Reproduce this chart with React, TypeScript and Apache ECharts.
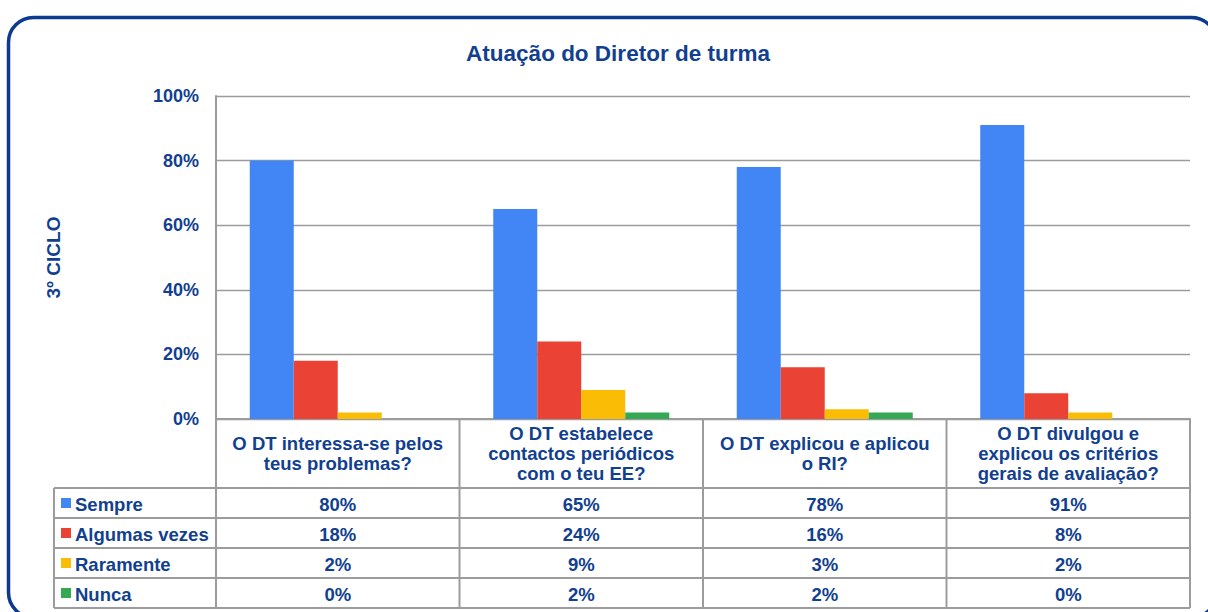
import React, { useEffect, useRef } from "react";
import * as echarts from "echarts";

const categories = [
  "O DT interessa-se pelos\nteus problemas?",
  "O DT estabelece\ncontactos periódicos\ncom o teu EE?",
  "O DT explicou e aplicou\no RI?",
  "O DT divulgou e\nexplicou os critérios\ngerais de avaliação?",
];
const seriesNames = ["Sempre", "Algumas vezes", "Raramente", "Nunca"];
const sempre = [80, 65, 78, 91];
const algumas = [18, 24, 16, 8];
const raramente = [2, 9, 3, 2];
const nunca = [0, 2, 2, 0];
const colors = ["#4285F4", "#EA4335", "#FBBC05", "#34A853"];
const yTicks = [0, 20, 40, 60, 80, 100];

const TEXT = "#123F8F";
const FONT = "'Liberation Sans', Arial, sans-serif";
const GRID_LINE = "#9c9c9c";

export default function App() {
  const ref = useRef<HTMLDivElement>(null);
  useEffect(() => {
    if (!ref.current) return;
    const chart = echarts.init(ref.current, null, { renderer: "svg" });
    const W = 1208;
    const H = 612;
    const gl = 216;
    const gr = 1190;
    const gt = 96;
    const gb = 419;
    const colW = (gr - gl) / categories.length;
    const rowTops = [488, 518, 548, 578, 608];
    const tableLeft = 54;
    const allSeries = [sempre, algumas, raramente, nunca];

    const graphics: any[] = [];
    graphics.push({
      type: "rect",
      shape: { x: 8.5, y: 17.5, width: 1208, height: 600, r: 25 },
      style: { fill: "none", stroke: "#0C3A8E", lineWidth: 3.5 },
      silent: true,
      z: 100,
    });
    for (let i = 0; i <= categories.length; i++) {
      const x = gl + i * colW;
      graphics.push({
        type: "line",
        shape: { x1: x, y1: gb, x2: x, y2: rowTops[rowTops.length - 1] },
        style: { stroke: GRID_LINE, lineWidth: 2 },
      });
    }
    graphics.push({
      type: "line",
      shape: { x1: tableLeft, y1: rowTops[0], x2: tableLeft, y2: rowTops[rowTops.length - 1] },
      style: { stroke: GRID_LINE, lineWidth: 2 },
    });
    rowTops.forEach((y) => {
      graphics.push({
        type: "line",
        shape: { x1: tableLeft, y1: y, x2: gr, y2: y },
        style: { stroke: GRID_LINE, lineWidth: 2 },
      });
    });
    seriesNames.forEach((name, r) => {
      const cy = (rowTops[r] + rowTops[r + 1]) / 2;
      graphics.push({
        type: "rect",
        shape: { x: 61, y: cy - 5, width: 10, height: 10 },
        style: { fill: colors[r] },
      });
      graphics.push({
        type: "text",
        x: 75,
        y: cy + 1,
        style: {
          text: name,
          fill: TEXT,
          font: `bold 18.5px ${FONT}`,
          textAlign: "left",
          textVerticalAlign: "middle",
        },
      });
      allSeries[r].forEach((v, c) => {
        graphics.push({
          type: "text",
          x: gl + (c + 0.5) * colW,
          y: cy + 1,
          style: {
            text: `${v}%`,
            fill: TEXT,
            font: `bold 18.5px ${FONT}`,
            textAlign: "center",
            textVerticalAlign: "middle",
          },
        });
      });
    });

    chart.setOption({
      animation: false,
      title: {
        text: "Atuação do Diretor de turma",
        left: 613,
        textAlign: "center",
        top: 37,
        textStyle: { color: TEXT, fontSize: 22.5, fontWeight: "bold", fontFamily: FONT },
      },
      grid: { left: gl, right: W - gr, top: gt, bottom: H - gb },
      xAxis: {
        type: "category",
        data: categories,
        axisLine: { show: true, lineStyle: { color: GRID_LINE, width: 2 } },
        axisTick: { show: false },
        axisLabel: {
          interval: 0,
          margin: 34,
          verticalAlign: "middle",
          color: TEXT,
          fontSize: 18.5,
          fontWeight: "bold",
          fontFamily: FONT,
          lineHeight: 20,
          align: "center",
        },
      },
      yAxis: {
        type: "value",
        min: yTicks[0],
        max: yTicks[yTicks.length - 1],
        interval: 20,
        name: "3º CICLO",
        nameLocation: "middle",
        nameGap: 153,
        nameRotate: 90,
        nameTextStyle: { color: TEXT, fontSize: 19, fontWeight: "bold", fontFamily: FONT },
        axisLine: { show: true, lineStyle: { color: GRID_LINE, width: 2 } },
        axisTick: { show: false },
        splitLine: { show: true, lineStyle: { color: GRID_LINE, width: 1.3 } },
        axisLabel: {
          formatter: "{value}%",
          margin: 17,
          color: TEXT,
          fontSize: 18,
          fontWeight: "bold",
          fontFamily: FONT,
        },
      },
      series: seriesNames.map((name, i) => ({
        name,
        type: "bar",
        data: allSeries[i],
        barWidth: 44,
        barGap: "0%",
        itemStyle: { color: colors[i] },
      })),
      graphic: graphics,
    });
    return () => chart.dispose();
  }, []);
  return (
    <div
      ref={ref}
      style={{ position: "fixed", left: 0, top: 0, width: 1208, height: 612, background: "#fff" }}
    />
  );
}
